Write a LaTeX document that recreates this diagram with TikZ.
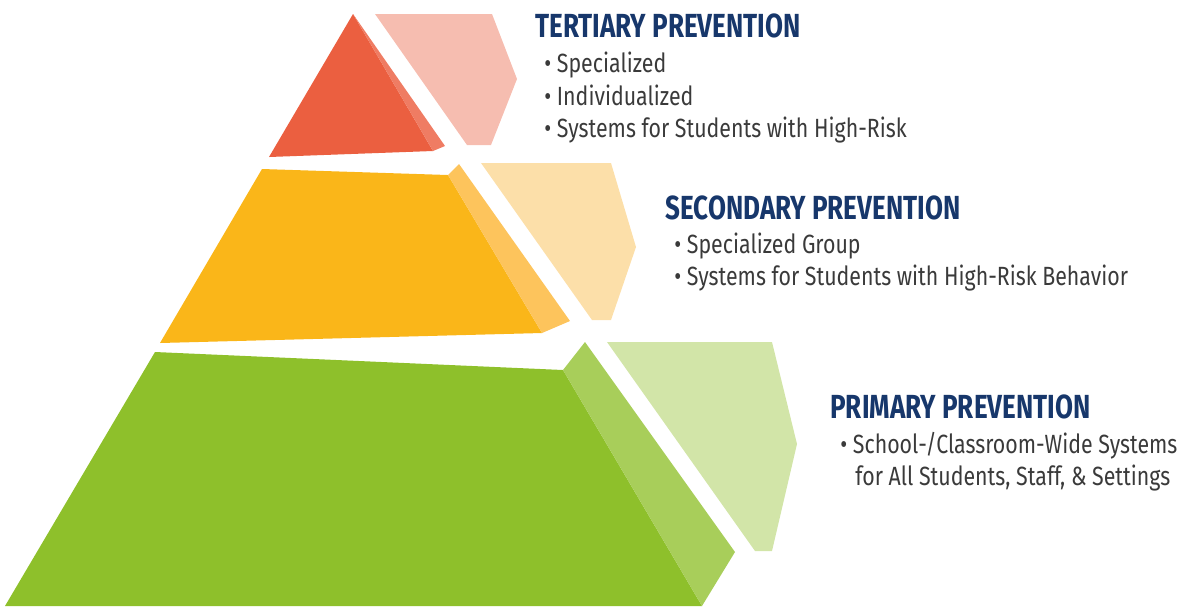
\documentclass[tikz,border=0pt]{standalone}
\usepackage{fontspec}
\setmainfont[FakeStretch=0.81]{Fira Sans}
\newfontfamily\headfont[FakeStretch=0.78]{Fira Sans Bold}
\usetikzlibrary{positioning}

\definecolor{tierRed}{HTML}{EB5F40}
\definecolor{tierRedSide}{HTML}{EF7C63}
\definecolor{tierRedPale}{HTML}{F6BDB0}
\definecolor{tierOrange}{HTML}{FAB619}
\definecolor{tierOrangeSide}{HTML}{FDC45C}
\definecolor{tierOrangePale}{HTML}{FCDFA9}
\definecolor{tierGreen}{HTML}{8EC02B}
\definecolor{tierGreenSide}{HTML}{A8CE5A}
\definecolor{tierGreenPale}{HTML}{D2E5A8}
\definecolor{headNavy}{HTML}{17376B}
\definecolor{itemGray}{HTML}{3A3A3A}

\tikzset{
  tierhead/.style={anchor=base west, inner sep=0pt, text=headNavy, font=\headfont\fontsize{19}{22}\selectfont},
  tieritem/.style={anchor=base west, inner sep=0pt, text=itemGray, font=\fontsize{15}{18}\selectfont}
}

\begin{document}
\begin{tikzpicture}[x=0.02cm,y=-0.02cm]
  \useasboundingbox (0,0) rectangle (1181,610);

  % tertiary
  \fill[tierRed] (353,14) -- (269,157) -- (433,151) -- cycle;
  \fill[tierRedSide] (353,14) -- (445,146) -- (433,151) -- cycle;
  \fill[tierRedPale] (375,14) -- (492,14) -- (517,79) -- (491,145) -- (467,145) -- cycle;

  % secondary
  \fill[tierOrange] (262,169) -- (160,343) -- (542,333) -- (448,175) -- cycle;
  \fill[tierOrangeSide] (448,175) -- (459,164) -- (570,321) -- (542,333) -- cycle;
  \fill[tierOrangePale] (481,163) -- (611,163) -- (636,247) -- (611,320) -- (592,320) -- cycle;

  % primary
  \fill[tierGreen] (155,352) -- (5,606) -- (702,606) -- (563,370) -- cycle;
  \fill[tierGreenSide] (563,370) -- (585,342) -- (735,552) -- (702,606) -- cycle;
  \fill[tierGreenPale] (607,342) -- (772,342) -- (797,444) -- (772,551) -- (755,551) -- cycle;

  \node[tierhead] (tertiaryHead) at (535,37) {TERTIARY PREVENTION};
  \node[tieritem] (tertiaryA) at (544,72) {\textbullet\ Specialized};
  \node[tieritem] (tertiaryB) at (544,105) {\textbullet\ Individualized};
  \node[tieritem] (tertiaryC) at (544,137) {\textbullet\ Systems for Students with High-Risk};

  \node[tierhead] (secondaryHead) at (665,219) {SECONDARY PREVENTION};
  \node[tieritem] (secondaryA) at (674,253) {\textbullet\ Specialized Group};
  \node[tieritem] (secondaryB) at (674,285) {\textbullet\ Systems for Students with High-Risk Behavior};

  \node[tierhead] (primaryHead) at (830,418) {PRIMARY PREVENTION};
  \node[tieritem] (primaryA) at (840,453) {\textbullet\ School-/Classroom-Wide Systems};
  \node[tieritem] (primaryB) at (855,485) {for All Students, Staff, \& Settings};

\end{tikzpicture}
\end{document}
